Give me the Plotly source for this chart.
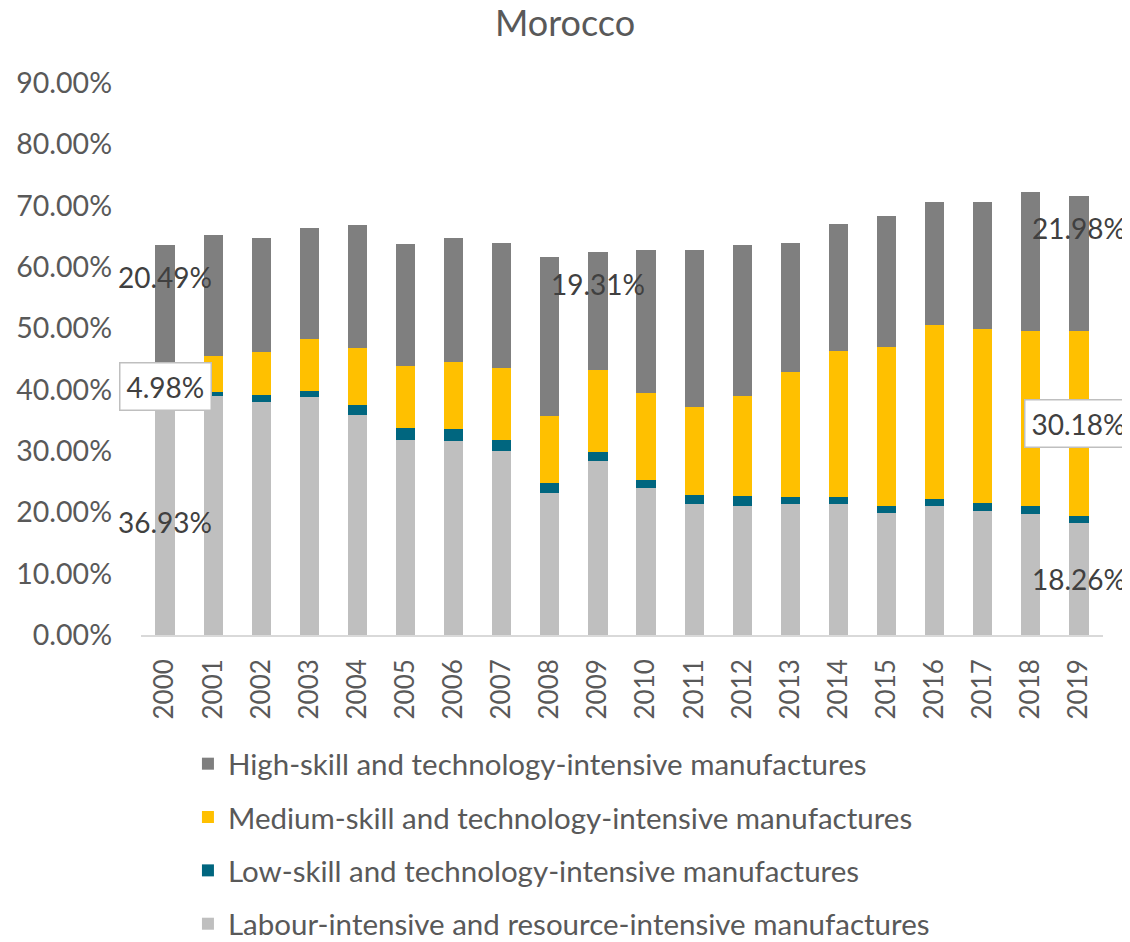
import plotly.graph_objects as go

years = [str(y) for y in range(2000, 2020)]

labour = [36.93, 38.91, 37.98, 38.74, 35.81, 31.78, 31.61, 29.98, 23.13, 28.35,
          24.01, 21.40, 21.09, 21.34, 21.40, 19.82, 20.96, 20.26, 19.66, 18.26]
low = [1.14, 0.65, 1.14, 1.03, 1.68, 1.91, 2.02, 1.75, 1.58, 1.42,
       1.19, 1.47, 1.62, 1.14, 1.08, 1.26, 1.19, 1.31, 1.31, 1.20]
medium = [4.98, 5.92, 6.97, 8.55, 9.36, 10.23, 10.82, 11.75, 10.93, 13.43,
          14.19, 14.29, 16.25, 20.34, 23.77, 25.82, 28.38, 28.27, 28.60, 30.18]
high = [20.49, 19.80, 18.60, 17.99, 19.95, 19.79, 20.23, 20.39, 25.94, 19.31,
        23.38, 25.61, 24.70, 21.09, 20.72, 21.48, 20.13, 20.83, 22.58, 21.98]

names = [
    "Labour-intensive and resource-intensive manufactures",
    "Low-skill and technology-intensive manufactures",
    "Medium-skill and technology-intensive manufactures",
    "High-skill and technology-intensive manufactures",
]
colors = ["#bfbfbf", "#00667f", "#ffc000", "#7f7f7f"]
series = [labour, low, medium, high]

FONT = "Lato"
TXT = "#595959"
LBL = "#404040"

fig = go.Figure()
for i, (nm, vals, col) in enumerate(zip(names, series, colors)):
    fig.add_trace(go.Bar(
        x=years, y=vals, name=nm, marker=dict(color=col, line=dict(width=0)),
        legendgroup=f"g{i}", legendrank=4 - i,
    ))

# data labels (2000, 2009, 2019)
def add_label(idx, seg, mode, box=False):
    base = sum(series[k][idx] for k in range(seg))
    val = series[seg][idx]
    if mode == "end":
        y = base + val
        yshift = -32
    else:
        y = base + val / 2
        yshift = 0
    kw = {}
    if box:
        kw = dict(bgcolor="white", bordercolor="#bfbfbf", borderwidth=1.5, borderpad=6)
    fig.add_annotation(x=idx, xref="x", y=y, text=f"{val:.2f}%", showarrow=False,
                       yshift=yshift, font=dict(family=FONT, size=28, color=LBL), **kw)

add_label(0, 3, "end")
add_label(0, 2, "center", box=True)
add_label(0, 0, "center")
add_label(9, 3, "end")
add_label(19, 3, "end")
add_label(19, 2, "center", box=True)
add_label(19, 0, "center")

fig.update_layout(
    width=1130, height=942,
    barmode="stack", bargap=0.6,
    plot_bgcolor="white", paper_bgcolor="white",
    margin=dict(l=133, r=35, t=75, b=315, autoexpand=False),
    font=dict(family=FONT, color=TXT),
    title=dict(text="Morocco", x=0.5 - 8 / 1130,
               xanchor="center", y=1 - 15 / 942, yanchor="middle",
               font=dict(family=FONT, size=36, color=TXT)),
    xaxis=dict(type="category", range=[-0.5, 19.5], showline=True, linecolor="#d9d9d9",
               linewidth=1.5, ticks="",
               tickangle=-90, tickfont=dict(family=FONT, size=26, color=TXT),
               ticklabelstandoff=12, showgrid=False),
    yaxis=dict(range=[0, 90], dtick=10, tickformat=".2f", ticksuffix="%",
               showgrid=False, zeroline=False, showline=False, ticks="",
               tickfont=dict(family=FONT, size=28.5, color=TXT), ticklabelstandoff=28),
    legend=dict(orientation="v", traceorder="grouped", tracegroupgap=12,
                x=0.0488, xanchor="left", yref="container", y=1 - 730 / 942, yanchor="top",
                font=dict(family=FONT, size=29.5, color=TXT)),
    showlegend=True,
)

fig.write_html("out.html")
